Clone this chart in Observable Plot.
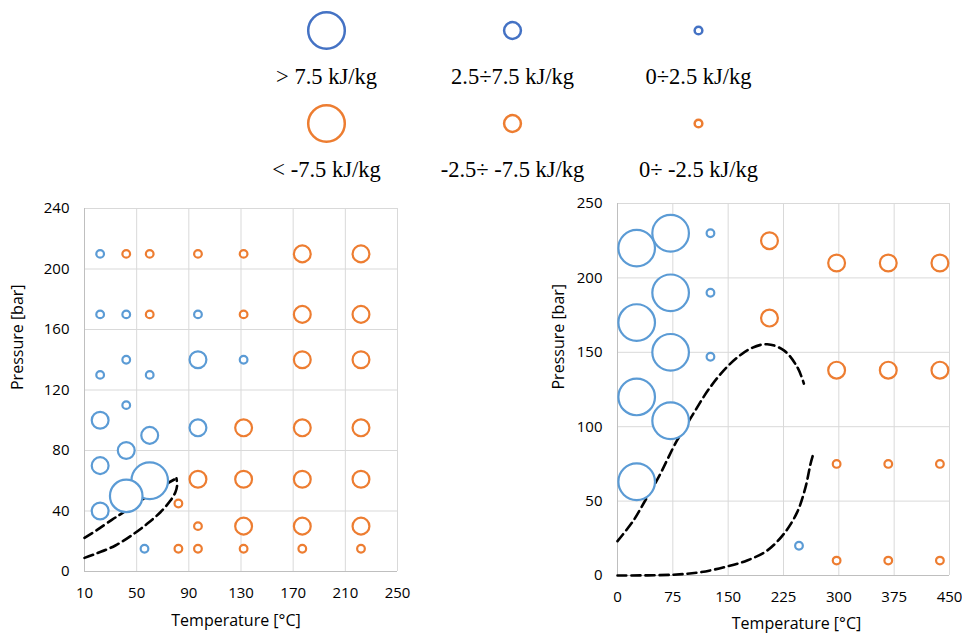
<!DOCTYPE html>
<html>
<head>
<meta charset="utf-8">
<script src="https://cdn.jsdelivr.net/npm/d3@7"></script>
<script src="https://cdn.jsdelivr.net/npm/@observablehq/plot@0.6"></script>
<style>
  html, body { margin: 0; padding: 0; background: #fff; }
  #wrap { position: relative; width: 962px; height: 641px; overflow: hidden; background: #fff; }
  .pane { position: absolute; }
</style>
</head>
<body>
<div id="wrap">
  <div id="legend" class="pane" style="left:0;top:0"></div>
  <div id="left" class="pane" style="left:0;top:195px"></div>
  <div id="right" class="pane" style="left:540px;top:190px"></div>
</div>
<script>
// ---------- Legend ----------
const legendLabels = ["> 7.5 kJ/kg", "2.5÷7.5 kJ/kg", "0÷2.5 kJ/kg", "< -7.5 kJ/kg", "-2.5÷ -7.5 kJ/kg", "0÷ -2.5 kJ/kg"];
const legendValues = [10, 4.6, 2.1, -10, -4.6, -2.1];
const legendCol = [0, 1, 2, 0, 1, 2];
const legendRow = [0, 0, 0, 1, 1, 1];

// ---------- Left chart (T in °C, P in bar, energy class in kJ/kg) ----------
const leftXTicks = [10, 50, 90, 130, 170, 210, 250];
const leftYTicks = [0, 40, 80, 120, 160, 200, 240];
const leftT = [22, 42, 60, 97, 132, 177, 222,
               22, 42, 60, 97, 132, 177, 222,
               42, 97, 132, 177, 222,
               22, 60,
               42,
               22,
               97, 132, 177, 222,
               60,
               42,
               22,
               97, 132, 177, 222,
               60,
               42,
               82,
               22,
               97, 132, 177, 222,
               56, 82, 97, 132, 177, 222];
const leftP = [210, 210, 210, 210, 210, 210, 210,
               170, 170, 170, 170, 170, 170, 170,
               140, 140, 140, 140, 140,
               130, 130,
               110,
               100,
               95, 95, 95, 95,
               90,
               80,
               70,
               61, 61, 61, 61,
               60,
               50,
               45,
               40,
               30, 30, 30, 30,
               15, 15, 15, 15, 15, 15];
const leftE = [2.1, -2.1, -2.1, -2.1, -2.1, -4.6, -4.6,
               2.1, 2.1, -2.1, 2.1, -2.1, -4.6, -4.6,
               2.1, 4.6, 2.1, -4.6, -4.6,
               2.1, 2.1,
               2.1,
               4.6,
               4.6, -4.6, -4.6, -4.6,
               4.6,
               4.6,
               4.6,
               -4.6, -4.6, -4.6, -4.6,
               10,
               8.9,
               -2.1,
               4.6,
               -2.1, -4.6, -4.6, -4.6,
               2.1, -2.1, -2.1, -2.1, -2.1, -2.1];
const leftUpperT = [10, 19.7, 31.2, 38.1, 50, 62, 72, 80.5];
const leftUpperP = [22.2, 27.5, 34.3, 38.1, 45, 52, 57.5, 61.6];
const leftLowerT = [10, 19.7, 33.7, 47.8, 58, 68.2, 75.9, 79.7, 81, 80.5];
const leftLowerP = [9, 12.1, 17.2, 24.9, 31.5, 39.2, 46.9, 52.4, 56.8, 61.6];

// ---------- Right chart ----------
const rightXTicks = [0, 75, 150, 225, 300, 375, 450];
const rightYTicks = [0, 50, 100, 150, 200, 250];
const rightT = [26, 72, 126, 206, 297, 367, 437,
                72, 126,
                26, 206,
                72, 126,
                297, 367, 437,
                26, 72, 26,
                297, 367, 437,
                246,
                297, 367, 437];
const rightP = [220, 230, 230, 225, 210, 210, 210,
                190, 190,
                170, 173,
                150, 147,
                138, 138, 138,
                120, 104, 63,
                75, 75, 75,
                20,
                10, 10, 10];
const rightE = [10, 10, 2.1, -4.6, -4.6, -4.6, -4.6,
                10, 2.1,
                10, -4.6,
                10, 2.1,
                -4.6, -4.6, -4.6,
                10, 10, 10,
                -2.1, -2.1, -2.1,
                2.1,
                -2.1, -2.1, -2.1];
const rightUpperT = [0, 21.7, 37.6, 55.7, 80.7, 98.7, 125.9, 153, 180.2, 202.9, 225.5, 243.6, 252.6];
const rightUpperP = [23.1, 37, 50.4, 66.1, 90.8, 105.4, 126.7, 142.4, 152.5, 155.4, 151.3, 140.1, 129];
const rightLowerT = [0, 73.9, 112.3, 148.6, 175.7, 202.9, 225.5, 243.6, 254.9, 261.7, 266.2];
const rightLowerP = [0, 0.5, 2.2, 6.1, 10.1, 16.8, 28, 42.6, 59.4, 75.1, 83];

const xTitle = "Temperature [°C]";
const yTitle = "Pressure [bar]";

const sansFont = "'Open Sans', Lato, sans-serif";
const rScale = {type: "linear", domain: [0, 10], range: [0, 18.3]};
const sign = v => (v > 0 ? "positive" : "negative");

// ---------- Legend plot ----------
const legendIdx = d3.range(legendLabels.length);
document.getElementById("legend").append(Plot.plot({
  width: 962, height: 192,
  marginTop: 0, marginRight: 0, marginBottom: 0, marginLeft: 0,
  style: {background: "transparent", overflow: "visible"},
  x: {domain: [0, 2], range: [326, 698], axis: null},
  y: {domain: [0, 1], range: [30, 123], axis: null},
  r: rScale,
  color: {domain: ["positive", "negative"], range: ["#4472C4", "#ED7D31"]},
  marks: [
    Plot.dot(legendIdx, {
      x: i => legendCol[i], y: i => legendRow[i],
      r: i => Math.abs(legendValues[i]),
      stroke: i => sign(legendValues[i]),
      fill: "white", strokeWidth: 2.5
    }),
    Plot.text(legendIdx, {
      x: i => legendCol[i], y: i => legendRow[i],
      text: i => legendLabels[i],
      dy: 46, fontFamily: "'Liberation Serif', serif", fontSize: 22.5, fill: "black"
    })
  ]
}));

function chart(opts) {
  const idx = d3.range(opts.T.length);
  const up = opts.upT.map((t, i) => [t, opts.upP[i]]);
  const lo = opts.loT.map((t, i) => [t, opts.loP[i]]);
  const dash = {curve: "catmull-rom", stroke: "black", strokeWidth: 2.6, strokeDasharray: "9,5"};
  return Plot.plot({
    width: opts.width, height: opts.height,
    marginLeft: opts.ml, marginRight: opts.mr, marginTop: opts.mt, marginBottom: opts.mb,
    style: {background: "transparent", fontFamily: sansFont, fontSize: "15px", color: "#000", overflow: "visible"},
    x: {domain: opts.xDomain, ticks: opts.xTicks, tickSize: 0, tickPadding: 16, label: null},
    y: {domain: opts.yDomain, ticks: opts.yTicks, tickSize: 0, tickPadding: 15, label: null},
    r: rScale,
    color: {domain: ["positive", "negative"], range: ["#5B9BD5", "#ED7D31"]},
    marks: [
      Plot.ruleX(opts.xTicks, {stroke: "#d9d9d9", strokeWidth: 1}),
      Plot.ruleY(opts.yTicks, {stroke: "#d9d9d9", strokeWidth: 1}),
      Plot.ruleX([opts.xDomain[0]], {stroke: "#bfbfbf", strokeWidth: 1}),
      Plot.ruleY([opts.yDomain[0]], {stroke: "#bfbfbf", strokeWidth: 1}),
      Plot.line(up, dash),
      Plot.line(lo, dash),
      Plot.dot(idx, {
        x: i => opts.T[i], y: i => opts.P[i],
        r: i => Math.abs(opts.E[i]),
        stroke: i => sign(opts.E[i]),
        fill: "white", strokeWidth: 2.2
      }),
      Plot.text([xTitle], {frameAnchor: "bottom", dx: opts.xtDx, dy: opts.xtDy, fontSize: 16, fill: "black"}),
      Plot.text([yTitle], {frameAnchor: "left", dx: opts.ytDx, rotate: -90, fontSize: 16, fill: "black"})
    ]
  });
}

document.getElementById("left").append(chart({
  width: 420, height: 446, ml: 84, mr: 23, mt: 13, mb: 70,
  xDomain: [10, 250], yDomain: [0, 240], xTicks: leftXTicks, yTicks: leftYTicks,
  T: leftT, P: leftP, E: leftE,
  upT: leftUpperT, upP: leftUpperP, loT: leftLowerT, loP: leftLowerP,
  xtDx: -5, xtDy: 54, ytDx: -67
}));

document.getElementById("right").append(chart({
  width: 422, height: 451, ml: 77, mr: 13, mt: 13, mb: 66,
  xDomain: [0, 450], yDomain: [0, 250], xTicks: rightXTicks, yTicks: rightYTicks,
  T: rightT, P: rightP, E: rightE,
  upT: rightUpperT, upP: rightUpperP, loT: rightLowerT, loP: rightLowerP,
  xtDx: 13, xtDy: 53, ytDx: -59
}));
</script>
</body>
</html>
